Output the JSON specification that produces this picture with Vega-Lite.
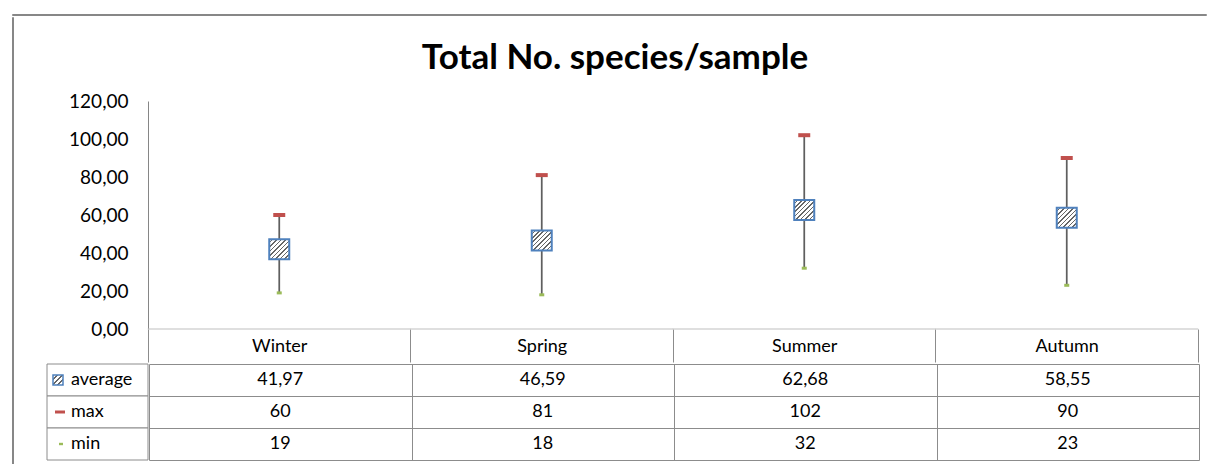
{
  "$schema": "https://vega.github.io/schema/vega-lite/v6.json",
  "background": "white",
  "padding": {"left": 11, "top": 13, "right": 0, "bottom": 0},
  "config": {
    "font": "Lato",
    "locale": {"number": {"decimal": ",", "thousands": ".", "grouping": [3], "currency": ["", " €"]}},
    "view": {"stroke": null},
    "concat": {"spacing": 0},
    "axisY": {"labelOverlap": false}
  },
  "datasets": {
    "seasons": [
      {"season": "Winter", "average": 41.97, "max": 60, "min": 19},
      {"season": "Spring", "average": 46.59, "max": 81, "min": 18},
      {"season": "Summer", "average": 62.68, "max": 102, "min": 32},
      {"season": "Autumn", "average": 58.55, "max": 90, "min": 23}
    ],
    "legend": [{"row": "average"}, {"row": "max"}, {"row": "min"}],
    "empty": []
  },
  "vconcat": [
    {
      "width": 1194,
      "height": 1,
      "data": {"name": "empty"},
      "mark": "point",
      "view": {"stroke": "#878787", "strokeWidth": 1}
    },
    {
      "spacing": 32,
      "hconcat": [
        {
          "width": 1,
          "height": 448,
          "data": {"name": "empty"},
          "mark": "point",
          "view": {"stroke": "#878787", "strokeWidth": 1}
        },
        {
          "vconcat": [
            {
              "width": 1,
              "height": 24,
              "data": {"name": "empty"},
              "mark": "point"
            },
            {
              "width": 1151,
              "height": 228,
              "title": {"text": "Total No. species/sample", "fontSize": 35, "fontWeight": "bold", "font": "Lato", "color": "#000000", "anchor": "middle", "offset": 16, "dx": -7.5},
              "data": {"name": "seasons"},
              "encoding": {
                "x": {
                  "field": "season", "type": "nominal", "sort": ["Winter", "Spring", "Summer", "Autumn"],
                  "scale": {"paddingInner": 0, "paddingOuter": 0.19238, "align": 1},
                  "axis": {"title": null, "orient": "bottom", "domain": false, "tickBand": "extent", "ticks": true, "tickSize": 33, "tickColor": "#8c8c8c", "tickWidth": 1, "labelAngle": 0, "labelFontSize": 18, "labelColor": "#000000", "labelPadding": -16, "labelBaseline": "middle", "grid": false}
                }
              },
              "layer": [
                {
                  "mark": {"type": "tick", "color": "#bfbfbf", "thickness": 1, "size": 263, "opacity": 1},
                  "encoding": {
                    "y": {"datum": 0, "type": "quantitative", "title": null, "scale": {"domain": [0, 120], "nice": false},
                      "axis": {"title": null, "tickCount": 6, "format": ".2f", "labelOverlap": false, "grid": false, "ticks": false, "domainColor": "#868686", "domainWidth": 1, "labelFontSize": 19, "labelColor": "#000000", "labelPadding": 20, "offset": -101}}
                  }
                },
                {
                  "mark": {"type": "rule", "color": "#5f5f5f", "strokeWidth": 1.75},
                  "encoding": {
                    "y": {"field": "min", "type": "quantitative", "title": null},
                    "y2": {"field": "max"}
                  }
                },
                {
                  "mark": {"type": "tick", "color": "#C0504D", "thickness": 4, "size": 12, "opacity": 1},
                  "encoding": {"y": {"field": "max", "type": "quantitative", "title": null}}
                },
                {
                  "mark": {"type": "tick", "color": "#9BBB59", "thickness": 3, "size": 5, "opacity": 1},
                  "encoding": {"y": {"field": "min", "type": "quantitative", "title": null}}
                },
                {
                  "mark": {
                    "type": "point", "shape": "square", "size": 400, "filled": true, "opacity": 1,
                    "stroke": "#4F81BD", "strokeWidth": 2,
                    "fill": {"gradient": "linear", "x1": 0, "y1": 0, "x2": 1, "y2": 1, "stops": [
                      {"offset": 0, "color": "#ffffff"}, {"offset": 0.072, "color": "#ffffff"}, {"offset": 0.072, "color": "#666666"}, {"offset": 0.111, "color": "#666666"},
                      {"offset": 0.111, "color": "#ffffff"}, {"offset": 0.183, "color": "#ffffff"}, {"offset": 0.183, "color": "#666666"}, {"offset": 0.222, "color": "#666666"},
                      {"offset": 0.222, "color": "#ffffff"}, {"offset": 0.294, "color": "#ffffff"}, {"offset": 0.294, "color": "#666666"}, {"offset": 0.333, "color": "#666666"},
                      {"offset": 0.333, "color": "#ffffff"}, {"offset": 0.405, "color": "#ffffff"}, {"offset": 0.405, "color": "#666666"}, {"offset": 0.444, "color": "#666666"},
                      {"offset": 0.444, "color": "#ffffff"}, {"offset": 0.516, "color": "#ffffff"}, {"offset": 0.516, "color": "#666666"}, {"offset": 0.556, "color": "#666666"},
                      {"offset": 0.556, "color": "#ffffff"}, {"offset": 0.627, "color": "#ffffff"}, {"offset": 0.627, "color": "#666666"}, {"offset": 0.667, "color": "#666666"},
                      {"offset": 0.667, "color": "#ffffff"}, {"offset": 0.738, "color": "#ffffff"}, {"offset": 0.738, "color": "#666666"}, {"offset": 0.778, "color": "#666666"},
                      {"offset": 0.778, "color": "#ffffff"}, {"offset": 0.849, "color": "#ffffff"}, {"offset": 0.849, "color": "#666666"}, {"offset": 0.889, "color": "#666666"},
                      {"offset": 0.889, "color": "#ffffff"}, {"offset": 0.96, "color": "#ffffff"}, {"offset": 0.96, "color": "#666666"}, {"offset": 1, "color": "#666666"}
                    ]}
                  },
                  "encoding": {"y": {"field": "average", "type": "quantitative", "title": null}}
                }
              ]
            },
            {
              "hconcat": [
                {
                  "width": 101,
                  "height": 96,
                  "data": {"name": "legend"},
                  "encoding": {
                    "y": {"field": "row", "type": "nominal", "sort": null, "axis": null, "scale": {"type": "band", "domain": ["average", "max", "min"], "paddingInner": 0, "paddingOuter": 0}}
                  },
                  "layer": [
                    {
                      "mark": {"type": "rect", "fill": "#ffffff", "stroke": "#8c8c8c", "strokeWidth": 1},
                      "encoding": {
                        "x": {"datum": 0, "type": "quantitative", "scale": {"domain": [0, 1]}, "axis": null},
                        "x2": {"datum": 1}
                      }
                    },
                    {
                      "mark": {"type": "text", "align": "left", "baseline": "middle", "dx": 24, "fontSize": 18, "color": "#000000"},
                      "encoding": {
                        "x": {"datum": 0, "type": "quantitative"},
                        "text": {"field": "row", "type": "nominal"}
                      }
                    },
                    {
                      "transform": [{"filter": "datum.row === 'average'"}],
                      "mark": {
                        "type": "point", "shape": "square", "size": 100, "filled": true, "opacity": 1, "xOffset": 11,
                        "stroke": "#4F81BD", "strokeWidth": 1.5,
                        "fill": {"gradient": "linear", "x1": 0, "y1": 0, "x2": 1, "y2": 1, "stops": [
                          {"offset": 0, "color": "#ffffff"}, {"offset": 0.15, "color": "#ffffff"}, {"offset": 0.15, "color": "#666666"}, {"offset": 0.25, "color": "#666666"},
                          {"offset": 0.25, "color": "#ffffff"}, {"offset": 0.4, "color": "#ffffff"}, {"offset": 0.4, "color": "#666666"}, {"offset": 0.5, "color": "#666666"},
                          {"offset": 0.5, "color": "#ffffff"}, {"offset": 0.65, "color": "#ffffff"}, {"offset": 0.65, "color": "#666666"}, {"offset": 0.75, "color": "#666666"},
                          {"offset": 0.75, "color": "#ffffff"}, {"offset": 0.9, "color": "#ffffff"}, {"offset": 0.9, "color": "#666666"}, {"offset": 1, "color": "#666666"}
                        ]}
                      },
                      "encoding": {"x": {"datum": 0, "type": "quantitative"}}
                    },
                    {
                      "transform": [{"filter": "datum.row === 'max'"}],
                      "mark": {"type": "point", "shape": "M-1,-0.3H1V0.3H-1Z", "size": 100, "filled": true, "opacity": 1, "xOffset": 13, "fill": "#C0504D", "strokeWidth": 0},
                      "encoding": {"x": {"datum": 0, "type": "quantitative"}}
                    },
                    {
                      "transform": [{"filter": "datum.row === 'min'"}],
                      "mark": {"type": "point", "shape": "M-1,-0.6H1V0.6H-1Z", "size": 16, "filled": true, "opacity": 1, "xOffset": 14, "fill": "#9BBB59", "strokeWidth": 0},
                      "encoding": {"x": {"datum": 0, "type": "quantitative"}}
                    }
                  ]
                },
                {
                  "width": 1050,
                  "height": 96,
                  "data": {"name": "seasons"},
                  "encoding": {
                    "x": {
                      "field": "season", "type": "nominal", "sort": ["Winter", "Spring", "Summer", "Autumn"],
                      "scale": {"paddingInner": 0, "paddingOuter": 0},
                      "axis": {"title": null, "labels": false, "ticks": false, "domain": false, "grid": true, "tickBand": "extent", "gridColor": "#8c8c8c", "gridWidth": 1, "gridOpacity": 1}
                    }
                  },
                  "layer": [
                    {
                      "mark": {"type": "text", "fontSize": 18, "color": "#000000", "baseline": "middle"},
                      "encoding": {
                        "y": {"datum": "average", "type": "nominal", "scale": {"type": "band", "domain": ["average", "max", "min"], "paddingInner": 0, "paddingOuter": 0},
                          "axis": {"title": null, "labels": false, "ticks": false, "domain": false, "grid": true, "tickBand": "extent", "gridColor": "#8c8c8c", "gridWidth": 1, "gridOpacity": 1}},
                        "text": {"field": "average", "type": "quantitative", "format": ".2f"}
                      }
                    },
                    {
                      "mark": {"type": "text", "fontSize": 18, "color": "#000000", "baseline": "middle"},
                      "encoding": {
                        "y": {"datum": "max", "type": "nominal"},
                        "text": {"field": "max", "type": "quantitative", "format": "d"}
                      }
                    },
                    {
                      "mark": {"type": "text", "fontSize": 18, "color": "#000000", "baseline": "middle"},
                      "encoding": {
                        "y": {"datum": "min", "type": "nominal"},
                        "text": {"field": "min", "type": "quantitative", "format": "d"}
                      }
                    }
                  ]
                }
              ]
            }
          ]
        }
      ]
    }
  ]
}
